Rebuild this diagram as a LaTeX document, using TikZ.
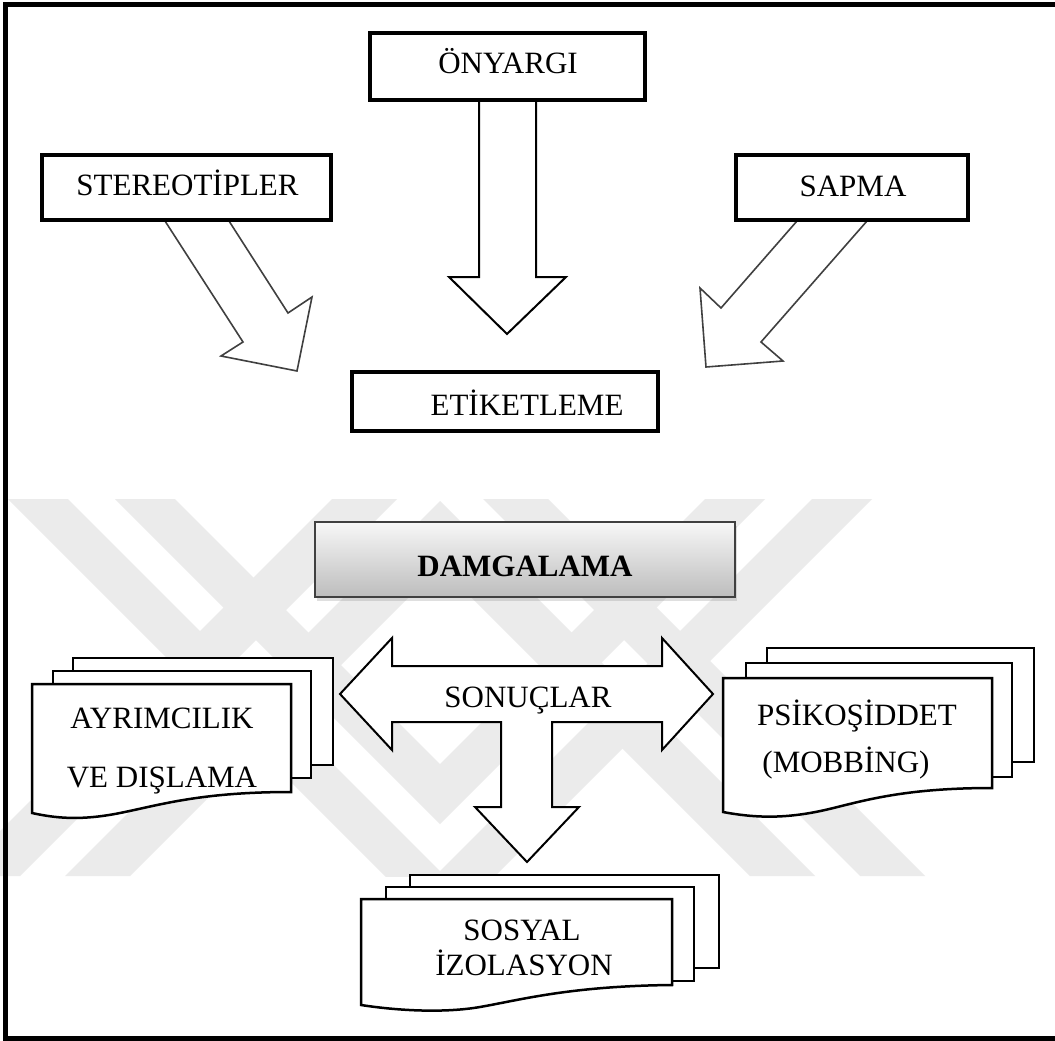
\documentclass[tikz,border=0pt]{standalone}
\usepackage{fontspec}
\setmainfont{Liberation Serif}
\usetikzlibrary{shadows}
\definecolor{arrgray}{HTML}{404040}
\definecolor{wmgray}{HTML}{EBEBEB}
\tikzset{
  lbl/.style={font=\fontsize{31}{37}\selectfont, anchor=base, inner sep=0pt},
  thickbox/.style={draw=black, line width=3.5pt, fill=white},
  blockarrow/.style={draw=black, line width=2pt, fill=white, line join=miter},
  slantarrow/.style={draw=arrgray, line width=1.6pt, fill=white, line join=miter},
  docshape/.style={draw=black, line width=2.5pt, fill=white, line join=miter},
  gradbox/.style={draw=arrgray, line width=1.5pt, top color=gray!6, bottom color=gray!52,
    drop shadow={shadow xshift=2pt, shadow yshift=-4pt, opacity=0.25}},
  wmark/.style={fill=wmgray, draw=none},
}
\begin{document}
\begin{tikzpicture}[x=1pt,y=-1pt]
\useasboundingbox (0,0) rectangle (1055,1041);
\clip (0,0) rectangle (1055,1041);
\fill[white] (0,0) rectangle (1055,1041);

% faint background watermark (nested V and inverted V stripes)
\begin{scope}
\clip (0,499) rectangle (1055,876);
\fill[wmark] (8,499) -- (68,499) -- (440,871) -- (812,499) -- (872,499) -- (440,931) -- cycle;
\fill[wmark] (115,499) -- (175,499) -- (440,764) -- (705,499) -- (765,499) -- (440,824) -- cycle;
\fill[wmark] (440,501) -- (815,876) -- (750,876) -- (440,566) -- (130,876) -- (65,876) -- cycle;
\fill[wmark] (440,391) -- (925,876) -- (860,876) -- (440,456) -- (20,876) -- (-45,876) -- cycle;
\end{scope}

% outer frame (right edge lies outside the picture)
\draw[line width=5pt] (5,4.5) rectangle (1080,1038.5);

% block arrows of the upper part
\draw[blockarrow] (479,101) -- (479,277) -- (449,277) -- (507,334) -- (566,277) -- (536,277) -- (536,101);
\draw[slantarrow] (165,221) -- (243,342) -- (221,356) -- (297,371) -- (312,297) -- (288,313) -- (229,221);
\draw[slantarrow] (797,221) -- (721,308) -- (700,288) -- (706,367) -- (783,361) -- (761,342) -- (867,221);

% boxes
\draw[thickbox] (370,33) rectangle (645,100);
\draw[thickbox] (42,155) rectangle (331,220);
\draw[thickbox] (736,155) rectangle (968,220);
\draw[thickbox] (352,372) rectangle (658,431);
\path[gradbox] (315,522) rectangle (735,597);

% double arrow with stem
\draw[blockarrow] (340,694) -- (392,638) -- (392,666) -- (662,666) -- (662,638) -- (713,694)
  -- (662,750) -- (662,722) -- (552,722) -- (552,807) -- (579,807) -- (527,862)
  -- (475,807) -- (501,807) -- (501,722) -- (392,722) -- (392,750) -- cycle;

% document stack: AYRIMCILIK
\draw[docshape] (73,658) rectangle (333,765);
\draw[docshape] (53,671) rectangle (311,778);
\draw[docshape] (32,813) -- (32,684) -- (291,684) -- (291,792)
  .. controls (200,792) and (160,805) .. (120,813)
  .. controls (80,821) and (55,818) .. (32,813) -- cycle;

% document stack: PSIKOSIDDET
\draw[docshape] (767,648) rectangle (1034,762);
\draw[docshape] (746,663) rectangle (1012,777);
\draw[docshape] (723,812) -- (723,678) -- (992,678) -- (992,788)
  .. controls (900,788) and (860,802) .. (825,810)
  .. controls (785,819) and (755,818) .. (723,812) -- cycle;

% document stack: SOSYAL IZOLASYON
\draw[docshape] (410,875) rectangle (719,968);
\draw[docshape] (386,887) rectangle (694,981);
\draw[docshape] (361,1005) -- (361,899) -- (672,899) -- (672,985)
  .. controls (570,986) and (520,1000) .. (480,1007)
  .. controls (445,1013) and (400,1011) .. (361,1005) -- cycle;

% texts
\node[lbl] (tonyargi) at (508,74) {ÖNYARGI};
\node[lbl] (tstereo) at (187.5,195) {STEREOTİPLER};
\node[lbl] (tsapma) at (853,196) {SAPMA};
\node[lbl] (tetiket) at (527,415) {ETİKETLEME};
\node[lbl, font=\fontsize{31}{37}\selectfont\bfseries] (tdamga) at (525,576) {DAMGALAMA};
\node[lbl] (tsonuc) at (528,707) {SONUÇLAR};
\node[lbl] (tayr1) at (162,728) {AYRIMCILIK};
\node[lbl] (tayr2) at (162,787) {VE DIŞLAMA};
\node[lbl] (tpsi1) at (857,725) {PSİKOŞİDDET};
\node[lbl] (tpsi2) at (846,772) {(MOBBİNG)};
\node[lbl] (tsos1) at (522,940) {SOSYAL};
\node[lbl] (tsos2) at (524,975) {İZOLASYON};
\end{tikzpicture}
\end{document}
